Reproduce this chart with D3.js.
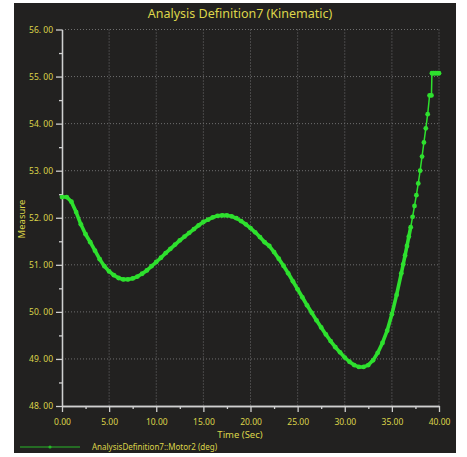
<!DOCTYPE html>
<html>
<head>
<meta charset="utf-8">
<script src="https://cdn.jsdelivr.net/npm/d3@7"></script>
<style>
  body { margin: 0; background: #fff; }
  text { font-family: "Noto Sans", "Open Sans", sans-serif; }
</style>
</head>
<body>
<svg class="chart"></svg>
<script>
(function () {
  var title = "Analysis Definition7 (Kinematic)";
  var seriesName = "AnalysisDefinition7::Motor2 (deg)";

  var times = [
    0, 0.5, 1, 1.5, 2, 2.5, 3, 3.5, 4, 4.5, 5, 5.5, 6, 6.5, 7, 7.5, 8, 8.5, 9, 9.5,
    10, 10.5, 11, 11.5, 12, 12.5, 13, 13.5, 14, 14.5, 15, 15.5, 16, 16.5, 17, 17.5,
    18, 18.5, 19, 19.5, 20, 20.5, 21, 21.5, 22, 22.5, 23, 23.5, 24, 24.5, 25, 25.5,
    26, 26.5, 27, 27.5, 28, 28.5, 29, 29.5, 30, 30.5, 31, 31.5, 32, 32.5, 33, 33.5,
    34, 34.5, 35, 35.5, 36, 36.2, 36.4, 36.6, 36.8, 37, 37.2, 37.4, 37.6, 37.8, 38,
    38.2, 38.4, 38.6, 38.8, 39, 39.2, 39.25, 39.4, 39.6, 39.8, 40
  ];
  var values = [
    52.44, 52.44, 52.34, 52.12, 51.86, 51.65, 51.48, 51.30, 51.12, 50.97, 50.86, 50.78,
    50.72, 50.69, 50.69, 50.71, 50.75, 50.81, 50.88, 50.97,
    51.06, 51.15, 51.25, 51.34, 51.43, 51.52, 51.60, 51.68, 51.76, 51.84, 51.91, 51.96,
    52.01, 52.04, 52.05, 52.05,
    52.03, 51.99, 51.93, 51.86, 51.78, 51.69, 51.59, 51.48, 51.40, 51.27, 51.13, 50.98,
    50.82, 50.65, 50.48, 50.31,
    50.14, 49.98, 49.82, 49.67, 49.52, 49.38, 49.25, 49.14, 49.03, 48.94, 48.87, 48.83,
    48.83, 48.87, 48.97, 49.13,
    49.34, 49.60, 49.95, 50.36, 50.82, 51.01, 51.20, 51.40, 51.60, 51.80, 52.02, 52.25,
    52.48, 52.73, 53.00,
    53.30, 53.60, 53.90, 54.20, 54.60, 54.60, 55.07, 55.07, 55.07, 55.07, 55.07
  ];
  var xTicks = [0, 5, 10, 15, 20, 25, 30, 35, 40];
  var yTicks = [48, 49, 50, 51, 52, 53, 54, 55, 56];

  var data = times.map(function(t, i) { return {t: t, v: values[i]}; });

  var width = 467, height = 457;
  var plot = {left: 62, right: 439, top: 29.5, bottom: 406};
  var yellow = "#ddd54a";
  var green = "#2ee02e";

  var svg = d3.select(".chart")
      .attr("width", width)
      .attr("height", height);

  svg.append("rect")
    .attr("x", 14).attr("y", 3)
    .attr("width", 442).attr("height", 450)
    .attr("fill", "#222120");

  var xscale = d3.scaleLinear().domain([0, 40]).range([plot.left, plot.right]);
  var yscale = d3.scaleLinear().domain([48, 56]).range([plot.bottom, plot.top]);

  // dotted grid
  var grid = svg.append("g")
    .attr("stroke", "#6e6e6e")
    .attr("stroke-width", 1)
    .attr("stroke-dasharray", "1,2");
  grid.selectAll(".vx")
    .data(xTicks.slice(1))
    .enter().append("line")
      .attr("x1", function(d) { return xscale(d); })
      .attr("x2", function(d) { return xscale(d); })
      .attr("y1", plot.top)
      .attr("y2", plot.bottom);
  grid.selectAll(".hy")
    .data(yTicks.slice(1))
    .enter().append("line")
      .attr("x1", plot.left)
      .attr("x2", plot.right)
      .attr("y1", function(d) { return yscale(d); })
      .attr("y2", function(d) { return yscale(d); });

  // axes
  var xaxis = d3.axisBottom(xscale)
    .tickValues(xTicks)
    .tickFormat(d3.format(".2f"))
    .tickSizeInner(6).tickSizeOuter(0).tickPadding(7);
  svg.append("g")
    .attr("transform", "translate(0," + plot.bottom + ")")
    .call(xaxis);
  var xminor = d3.axisBottom(xscale)
    .tickValues(d3.range(2.5, 40, 5))
    .tickFormat("")
    .tickSizeInner(3).tickSizeOuter(0);
  svg.append("g")
    .attr("transform", "translate(0," + plot.bottom + ")")
    .call(xminor);

  var yaxis = d3.axisLeft(yscale)
    .tickValues(yTicks)
    .tickFormat(function(d) { return d3.format(".2f")(d).replace(".", ". "); })
    .tickSizeInner(6).tickSizeOuter(0).tickPadding(3);
  svg.append("g")
    .attr("transform", "translate(" + plot.left + ",0)")
    .call(yaxis);
  var yminor = d3.axisLeft(yscale)
    .tickValues(d3.range(48.5, 56, 1))
    .tickFormat("")
    .tickSizeInner(3).tickSizeOuter(0);
  svg.append("g")
    .attr("transform", "translate(" + plot.left + ",0)")
    .call(yminor);

  svg.selectAll(".domain, .tick line")
    .attr("stroke", "#d0d0d0")
    .attr("stroke-width", 1.3);
  svg.selectAll(".tick text")
    .attr("fill", yellow)
    .style("font-size", "8.5px");

  // series line and markers (dense samples make the middle look thick)
  var line = d3.line()
    .x(function(d) { return xscale(d.t); })
    .y(function(d) { return yscale(d.v); });
  svg.append("path")
    .datum(data.filter(function(d) { return d.t <= 37; }))
    .attr("fill", "none")
    .attr("stroke", green)
    .attr("stroke-width", 3.6)
    .attr("stroke-linejoin", "round")
    .attr("d", line);
  svg.append("path")
    .datum(data.filter(function(d) { return d.t >= 37; }))
    .attr("fill", "none")
    .attr("stroke", green)
    .attr("stroke-width", 1.5)
    .attr("d", line);
  svg.selectAll(".pt")
    .data(data)
    .enter().append("circle")
      .attr("cx", function(d) { return xscale(d.t); })
      .attr("cy", function(d) { return yscale(d.v); })
      .attr("r", 2.4)
      .attr("fill", green);

  // texts
  svg.append("text")
    .attr("x", 240).attr("y", 18)
    .attr("text-anchor", "middle")
    .attr("fill", yellow)
    .style("font-size", "12.5px")
    .text(title);
  svg.append("text")
    .attr("x", 240).attr("y", 438)
    .attr("text-anchor", "middle")
    .attr("fill", yellow)
    .style("font-size", "9.5px")
    .text("Time (Sec)");
  svg.append("text")
    .attr("transform", "translate(25,219) rotate(-90)")
    .attr("text-anchor", "middle")
    .attr("fill", yellow)
    .style("font-size", "9.5px")
    .text("Measure");

  // legend
  svg.append("line")
    .attr("x1", 20).attr("x2", 80)
    .attr("y1", 447).attr("y2", 447)
    .attr("stroke", "#28b828").attr("stroke-width", 1);
  svg.append("circle")
    .attr("cx", 50).attr("cy", 447).attr("r", 1.6)
    .attr("fill", "#28b828");
  svg.append("text")
    .attr("x", 92).attr("y", 450)
    .attr("fill", yellow)
    .style("font-size", "8px")
    .text(seriesName);
})();
</script>
</body>
</html>
